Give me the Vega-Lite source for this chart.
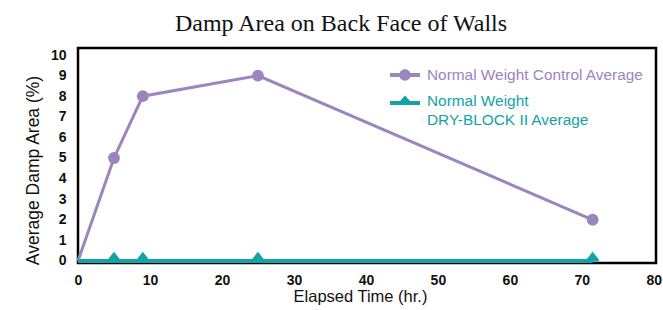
{
  "$schema": "https://vega.github.io/schema/vega-lite/v6.json",
  "width": 578,
  "height": 215,
  "autosize": {"type": "none"},
  "padding": {"left": 78, "top": 48, "right": 7, "bottom": 47},
  "background": "white",
  "title": {
    "text": "Damp Area on Back Face of Walls",
    "font": "Liberation Serif",
    "fontSize": 24,
    "fontWeight": "normal",
    "color": "#111111",
    "anchor": "middle",
    "dx": -26,
    "offset": 12
  },
  "config": {
    "view": {"stroke": "black", "strokeWidth": 2.5},
    "axis": {
      "grid": false,
      "domain": false,
      "ticks": false,
      "labelFont": "Liberation Sans",
      "labelFontWeight": "bold",
      "labelFontSize": 14,
      "labelColor": "#111111",
      "titleFont": "Liberation Sans",
      "titleFontWeight": "normal",
      "titleColor": "#111111"
    }
  },
  "data": {
    "values": [
      {"series": "Normal Weight Control Average", "time": 0, "damp": 0},
      {"series": "Normal Weight Control Average", "time": 5, "damp": 5},
      {"series": "Normal Weight Control Average", "time": 9, "damp": 8},
      {"series": "Normal Weight Control Average", "time": 25, "damp": 9},
      {"series": "Normal Weight Control Average", "time": 71.5, "damp": 2},
      {"series": "Normal Weight DRY-BLOCK II Average", "time": 0, "damp": 0},
      {"series": "Normal Weight DRY-BLOCK II Average", "time": 5, "damp": 0},
      {"series": "Normal Weight DRY-BLOCK II Average", "time": 9, "damp": 0},
      {"series": "Normal Weight DRY-BLOCK II Average", "time": 25, "damp": 0},
      {"series": "Normal Weight DRY-BLOCK II Average", "time": 71.5, "damp": 0}
    ]
  },
  "encoding": {
    "x": {
      "field": "time",
      "type": "quantitative",
      "scale": {"domain": [0, 80.3], "nice": false},
      "axis": {"values": [0, 10, 20, 30, 40, 50, 60, 70, 80], "title": "Elapsed Time (hr.)", "titleFontSize": 16.5, "titleX": 282, "labelPadding": 10, "titlePadding": 1, "labelFlush": false}
    },
    "y": {
      "field": "damp",
      "type": "quantitative",
      "scale": {"domain": [-0.1, 10.34], "nice": false, "zero": false},
      "axis": {"values": [0, 1, 2, 3, 4, 5, 6, 7, 8, 9, 10], "title": "Average Damp Area (%)", "titleFontSize": 17.5, "labelPadding": 12, "titlePadding": 8, "titleY": 122}
    },
    "color": {
      "field": "series",
      "type": "nominal",
      "scale": {
        "domain": ["Normal Weight Control Average", "Normal Weight DRY-BLOCK II Average"],
        "range": ["#9a86bd", "#12a3a6"]
      },
      "legend": {
        "orient": "none",
        "legendX": 312,
        "legendY": 12,
        "title": null,
        "symbolSize": 900,
        "symbolStrokeWidth": 0,
        "labelFont": "Liberation Sans",
        "labelFontSize": 15.4,
        "labelOffset": 7,
        "labelLimit": 400,
        "rowPadding": 2,
        "labelBaseline": "alphabetic",
        "labelExpr": "datum.label == 'Normal Weight DRY-BLOCK II Average' ? ['Normal Weight', 'DRY-BLOCK II Average'] : datum.label",
        "encode": {
          "symbols": {
            "update": {
              "shape": {"signal": "datum.label == 'Normal Weight Control Average' ? 'M-1,-0.13H1V0.13H-1Z M-0.38,0A0.38,0.38 0 1,1 0.38,0A0.38,0.38 0 1,1 -0.38,0Z' : 'M-1,0H1V0.26H-1Z M0,-0.36L0.42,0.1L-0.42,0.1Z'"},
              "fill": {"signal": "datum.label == 'Normal Weight Control Average' ? '#9a86bd' : '#12a3a6'"},
              "strokeWidth": {"value": 0}
            }
          },
          "labels": {
            "update": {
              "fill": {"signal": "datum.label == 'Normal Weight Control Average' ? '#9a86bd' : '#12a3a6'"},
              "dy": {"value": 5},
              "lineHeight": {"value": 19}
            }
          }
        }
      }
    }
  },
  "layer": [
    {
      "transform": [{"filter": "datum.series == 'Normal Weight Control Average'"}],
      "mark": {"type": "line", "strokeWidth": 3},
      "encoding": {}
    },
    {
      "transform": [{"filter": "datum.series == 'Normal Weight Control Average' && datum.time > 0"}],
      "mark": {"type": "point", "shape": "circle", "filled": true, "size": 140, "opacity": 1},
      "encoding": {}
    },
    {
      "transform": [{"filter": "datum.series == 'Normal Weight DRY-BLOCK II Average'"}],
      "mark": {"type": "line", "strokeWidth": 4},
      "encoding": {}
    },
    {
      "transform": [{"filter": "datum.series == 'Normal Weight DRY-BLOCK II Average' && datum.time > 0"}],
      "mark": {"type": "point", "shape": "M0,-1.5L1,-0.25L1,0.1L-1,0.1L-1,-0.25Z", "filled": true, "size": 150, "opacity": 1},
      "encoding": {}
    }
  ]
}
